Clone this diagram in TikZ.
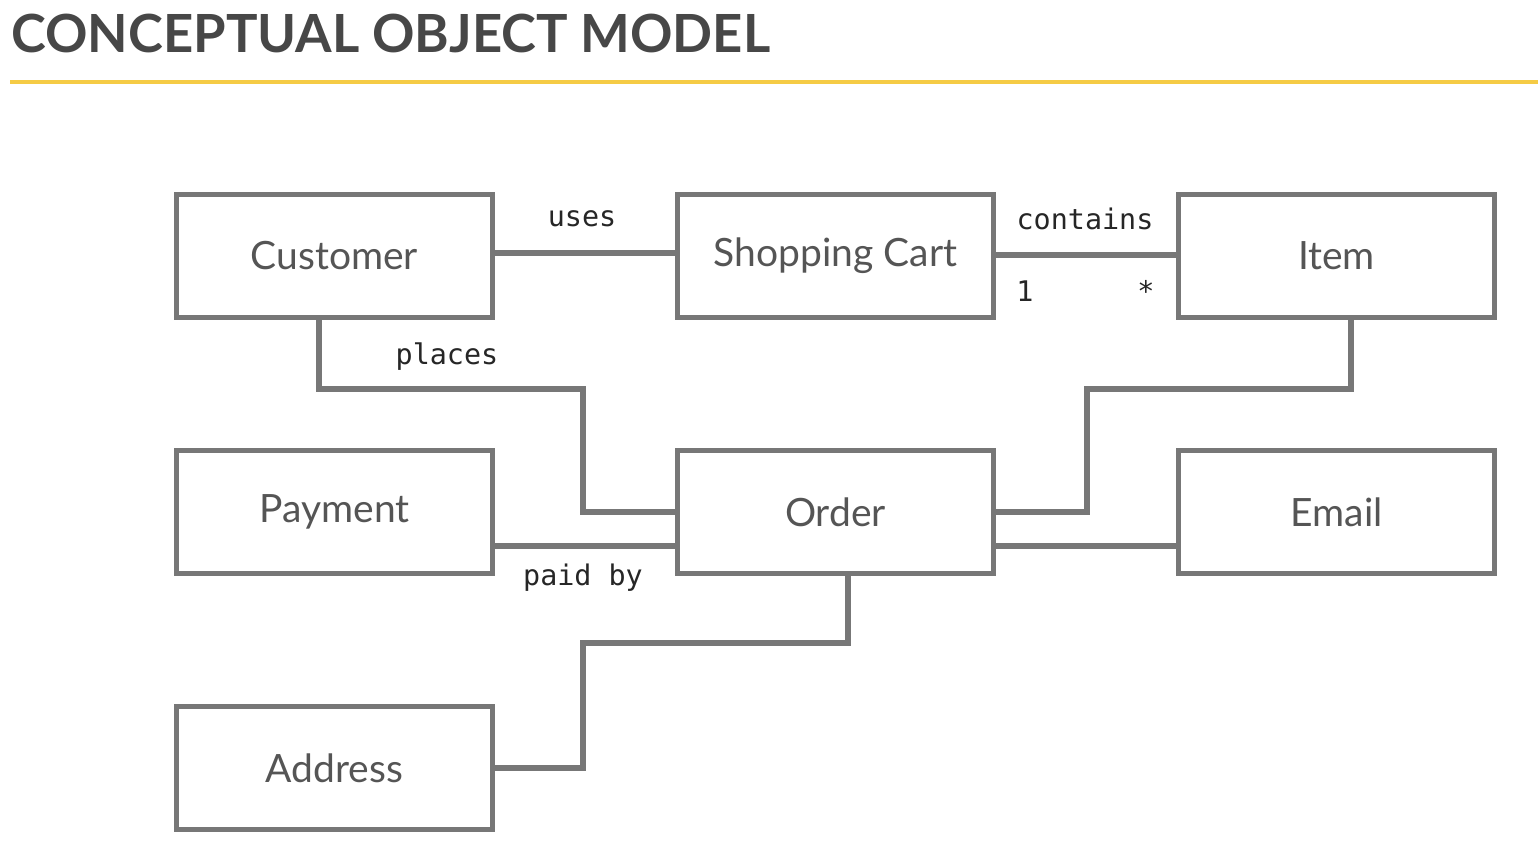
\documentclass[tikz,border=0pt]{standalone}
\usepackage{fontspec}
\setmainfont{Lato}
\setmonofont{DejaVu Sans Mono}
\usetikzlibrary{calc}
\definecolor{linegray}{HTML}{777777}
\definecolor{textgray}{HTML}{555555}
\definecolor{titlegray}{HTML}{474747}
\definecolor{goldline}{HTML}{F5CB45}
\begin{document}
\begin{tikzpicture}[x=0.5pt,y=-0.5pt,
  entity/.style={draw=linegray,line width=2.6pt,minimum width=158pt,minimum height=61.5pt,
    inner sep=0pt,font=\fontsize{19.5}{22}\selectfont,text=textgray},
  conn/.style={draw=linegray,line width=2.6pt},
  lbl/.style={font=\ttfamily\fontsize{14.2}{16}\selectfont,text=black!85,inner sep=0pt}]
\useasboundingbox (0,0) rectangle (1538,862);
\node[anchor=base west,inner sep=0pt,text=titlegray,font=\bfseries\fontsize{26.3}{32}\selectfont] (title) at (11,52) {CONCEPTUAL OBJECT MODEL};
\coordinate (g1) at (10,82);
\coordinate (g2) at (1538,82);
\draw[goldline,line width=2pt] (g1) -- (g2);

\node[entity] (cust) at (334.5,256) {Customer};
\node[entity] (cart) at (835.5,256) {Shopping Cart};
\node[entity] (item) at (1336.5,256) {Item};
\node[entity] (pay) at (334.5,512) {Payment};
\node[entity] (order) at (835.5,512) {Order};
\node[entity] (email) at (1336.5,512) {Email};
\node[entity] (addr) at (334.5,768) {Address};

\coordinate (u) at (0,253);
\coordinate (c) at (0,255);
\draw[conn] (cust.east |- u) -- (cart.west |- u);
\draw[conn] (cart.east |- c) -- (item.west |- c);

\coordinate (pl1) at (319,389);
\coordinate (pl2) at (583,389);
\draw[conn] (cust.south -| pl1) -- (pl1) -- (pl2) |- (order.west);

\coordinate (it1) at (1351,389);
\coordinate (it2) at (1087,389);
\draw[conn] (item.south -| it1) -- (it1) -- (it2) |- (order.east);

\coordinate (po) at (0,546);
\draw[conn] (pay.east |- po) -- (order.west |- po);
\draw[conn] (order.east |- po) -- (email.west |- po);

\coordinate (a1) at (848,643);
\coordinate (a2) at (583,643);
\draw[conn] (order.south -| a1) -- (a1) -- (a2) |- (addr.east);

\node[lbl] (luses) at (582,219) {uses};
\node[lbl] (lcont) at (1085,219) {contains};
\node[lbl] (lone) at (1025,291) {1};
\node[lbl] (lstar) at (1146,291) {*};
\node[lbl] (lplaces) at (447,357) {places};
\node[lbl] (lpaid) at (583,578) {paid by};
\end{tikzpicture}
\end{document}
